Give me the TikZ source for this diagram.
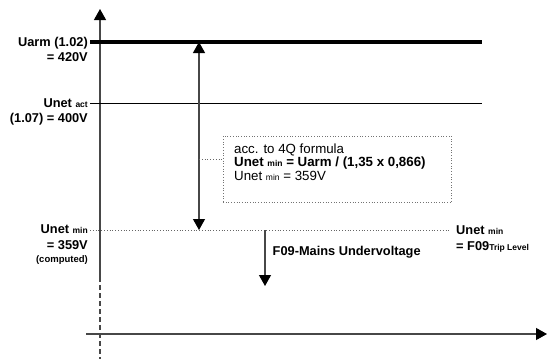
\documentclass[tikz,border=0pt]{standalone}
\usepackage{fontspec}
\setmainfont{Liberation Sans}
\usetikzlibrary{arrows.meta}
\newcommand\lblfs{\fontsize{12.8}{15.5}\selectfont}
\newcommand\mysubfs{\fontsize{8.5}{10}\selectfont}
\newcommand\compfs{\fontsize{9.5}{13}\selectfont}
\newcommand\boxfs{\fontsize{13.3}{11.7}\selectfont}
\begin{document}
\begin{tikzpicture}[x=1pt,y=-1pt,
  axisline/.style={line width=1.2pt, draw=black!72},
  tipend/.style={-{Triangle[length=11pt,width=12pt,color=black]}},
  tipboth/.style={{Triangle[length=11pt,width=12pt,color=black]}-{Triangle[length=11pt,width=12pt,color=black]}},
  levelthick/.style={line width=4pt, draw=black},
  levelthin/.style={line width=1pt, draw=black},
  leveldot/.style={line width=0.8pt, draw=black!60, dotted},
  lbl/.style={font=\bfseries\lblfs, inner sep=0pt},
  boxstyle/.style={draw=black!55, line width=0.7pt, dotted, inner sep=0pt}
]
\useasboundingbox (0,0) rectangle (548,359);

% axes
\coordinate (vtop) at (100,9);
\coordinate (vsplit) at (100,277);
\coordinate (vbot) at (100,359);
\coordinate (hleft) at (86,334);
\coordinate (hright) at (547,334);
\draw[axisline, tipend] (vsplit) -- (vtop);
\draw[axisline, dash pattern=on 5pt off 3pt] (vsplit) -- (vbot);
\draw[axisline, tipend] (hleft) -- (hright);

% level lines
\coordinate (uarmL) at (90,42);
\coordinate (uarmR) at (482,42);
\coordinate (uactL) at (90,103);
\coordinate (uactR) at (482,103);
\coordinate (uminL) at (90,230);
\coordinate (uminR) at (451,230);
\draw[levelthick] (uarmL) -- (uarmR);
\draw[levelthin] (uactL) -- (uactR);
\draw[leveldot] (uminL) -- (uminR);

% left labels (base anchor = last line)
\node[lbl, anchor=base east, align=right] (lUarm) at (88,61.9) {Uarm (1.02)\\= 420V};
\node[lbl, anchor=base east, align=right] (lUact) at (88,122.7) {Unet {\mysubfs act}\\(1.07) = 400V};
\node[lbl, anchor=base east, align=right] (lUmin) at (88,262.3) {Unet {\mysubfs min}\\= 359V\\[-2.5pt]{\compfs (computed)}};

% right label
\node[lbl, anchor=base west, align=left] (rUmin) at (456,250.3) {Unet {\mysubfs min}\\= F09{\mysubfs Trip Level}};

% double arrow
\coordinate (dtop) at (199,42);
\coordinate (dbot) at (199,230);
\draw[axisline, tipboth] (dbot) -- (dtop);

% F09 arrow
\coordinate (ftop) at (265,230);
\coordinate (fbot) at (265,286);
\draw[axisline, tipend] (ftop) -- (fbot);
\node[lbl, anchor=base west] (f09) at (272.5,255) {F09-Mains Undervoltage};

% formula box
\node[boxstyle, anchor=north west, minimum width=228.5pt, minimum height=66.5pt] (fbox) at (222.7,135.7) {};
\node[anchor=base west, align=left, inner sep=0pt, font=\boxfs] (ftext) at (234,180)
  {acc. to 4Q formula\\\textbf{Unet {\mysubfs min} = Uarm / (1,35 x 0,866)}\\Unet {\mysubfs min} = 359V};
\coordinate (lead) at (199,159);
\draw[leveldot, line width=0.7pt] (lead) -- (lead -| fbox.west);
\end{tikzpicture}
\end{document}
